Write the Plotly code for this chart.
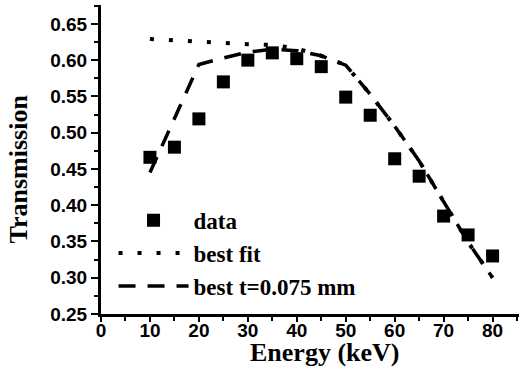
import plotly.graph_objects as go

energy = [10, 15, 20, 25, 30, 35, 40, 45, 50, 55, 60, 65, 70, 75, 80]
data_vals = [0.466, 0.480, 0.519, 0.570, 0.600, 0.610, 0.602, 0.591, 0.549, 0.524, 0.464, 0.440, 0.385, 0.359, 0.330]
best_fit = [0.629, 0.627, 0.625, 0.623, 0.622, 0.621, 0.616, 0.606, 0.593, 0.553, 0.509, 0.461, 0.404, 0.349, 0.300]
best_t = [0.445, 0.520, 0.594, 0.603, 0.611, 0.615, 0.613, 0.606, 0.593, 0.553, 0.509, 0.461, 0.404, 0.349, 0.300]

x_ticks = [0, 10, 20, 30, 40, 50, 60, 70, 80]
y_ticks = [0.25, 0.30, 0.35, 0.40, 0.45, 0.50, 0.55, 0.60, 0.65]

fig = go.Figure()
fig.add_trace(go.Scatter(x=energy, y=best_fit, mode="lines", name="<b>best fit</b>",
                         line=dict(color="black", width=4, dash="4px,15px"), legendrank=2))
fig.add_trace(go.Scatter(x=energy, y=best_t, mode="lines", name="<b>best t=0.075 mm</b>",
                         line=dict(color="black", width=3.5, dash="17px,12px"), legendrank=3))
fig.add_trace(go.Scatter(x=energy, y=data_vals, mode="markers", name="<b>data</b>",
                         marker=dict(symbol="square", size=13, color="black"), legendrank=1))

tickfont = dict(family="Liberation Sans", size=19, color="black")
titlefont = dict(family="Liberation Serif", size=26, color="black")

fig.update_layout(
    width=522, height=368,
    margin=dict(l=101, r=3, t=5, b=54),
    paper_bgcolor="white", plot_bgcolor="white",
    showlegend=True,
    legend=dict(x=0.03, y=0.373, xanchor="left", yanchor="top",
                font=dict(family="Liberation Serif", size=23, color="black"),
                itemwidth=70, bgcolor="rgba(0,0,0,0)", tracegroupgap=0),
    xaxis=dict(range=[0, 85.4], tickvals=x_ticks, ticktext=[f"<b>{v}</b>" for v in x_ticks],
               showline=True, linecolor="black", linewidth=3, mirror=False,
               ticks="outside", ticklen=5, tickwidth=2, tickcolor="black",
               minor=dict(dtick=5, tick0=5, ticks="outside", ticklen=4, tickwidth=2, tickcolor="black"),
               showgrid=False, zeroline=False, tickfont=tickfont, ticklabelstandoff=-8),
    yaxis=dict(range=[0.25, 0.676], tickvals=y_ticks, ticktext=[f"<b>{v:.2f}</b>" for v in y_ticks],
               showline=True, linecolor="black", linewidth=3, mirror=False,
               ticks="outside", ticklen=7, tickwidth=2, tickcolor="black",
               minor=dict(dtick=0.025, tick0=0.275, ticks="outside", ticklen=4, tickwidth=2, tickcolor="black"),
               showgrid=False, zeroline=False, tickfont=tickfont),
    annotations=[
        dict(text="<b>Energy (keV)</b>", xref="paper", yref="paper", x=0.535, y=-0.125,
             xanchor="center", yanchor="middle", showarrow=False, font=titlefont),
        dict(text="<b>Transmission</b>", xref="paper", yref="paper", x=-0.197, y=0.47,
             xanchor="center", yanchor="middle", showarrow=False, textangle=-90, font=titlefont),
    ],
)

fig.write_html("out.html")
